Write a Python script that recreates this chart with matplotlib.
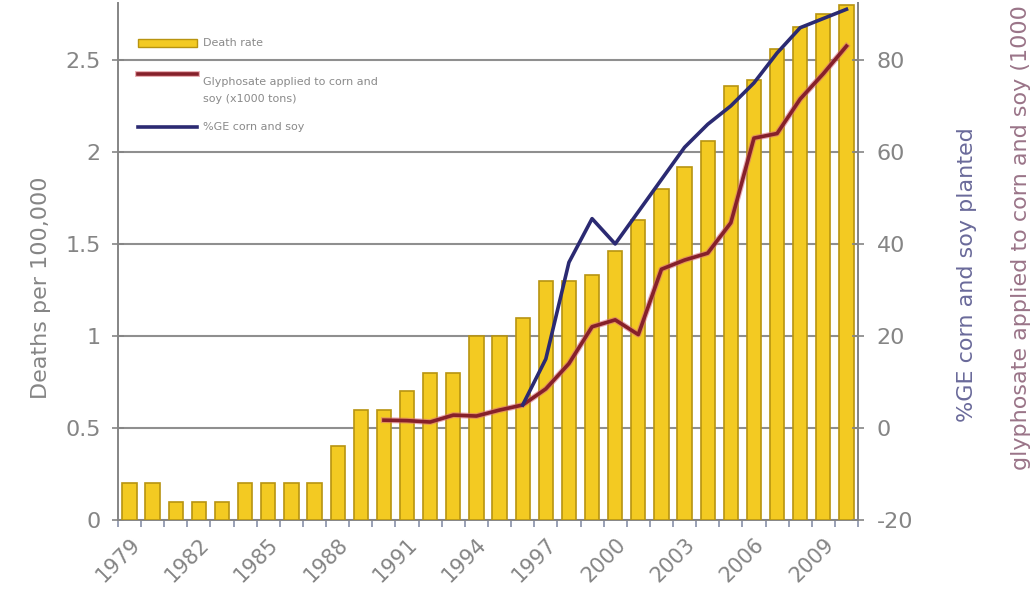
import matplotlib
matplotlib.use("Agg")
import matplotlib.pyplot as plt
import matplotlib.patheffects as pe
from matplotlib.lines import Line2D
from matplotlib.patches import Rectangle
from matplotlib.ticker import FixedLocator

plt.rcParams["axes.unicode_minus"] = False

# death rate per 100,000 (bars, left axis)
years = list(range(1979, 2011))
death_rate = [0.2, 0.2, 0.1, 0.1, 0.1, 0.2, 0.2, 0.2, 0.2, 0.4,
              0.6, 0.6, 0.7, 0.8, 0.8, 1.0, 1.0, 1.1, 1.3, 1.3,
              1.33, 1.46, 1.63, 1.8, 1.92, 2.06, 2.36, 2.39, 2.56, 2.68,
              2.75, 2.8]

# glyphosate applied to corn and soy, x1000 tons (right axis)
gly_years = list(range(1990, 2011))
glyphosate = [1.7, 1.6, 1.3, 2.8, 2.6, 3.9, 5.0, 8.5, 14, 22,
              23.5, 20.3, 34.5, 36.5, 38, 44.6, 63, 64, 71.5, 77,
              83]

# % GE corn and soy planted (right axis)
ge_years = list(range(1996, 2011))
ge_pct = [5, 15, 36, 45.5, 40, 47, 54, 61, 66, 70, 75, 81.5, 87, 89, 91]

label_years = list(range(1979, 2011, 3))

grey = "#858585"
bar_color = "#F3CA22"
bar_edge = "#B89410"
red = "#86202A"
navy = "#2B2A72"

W, H = 1034, 607
fig = plt.figure(figsize=(W / 100, H / 100), dpi=100)
ax = fig.add_axes([0.1141, 0.1433, 0.7157, 0.852])
ax2 = ax.twinx()


def px(x, y):
    # pixel position (from top-left) -> figure fraction
    return x / W, 1 - y / H


ax.bar(years, death_rate, width=0.62, color=bar_color,
       edgecolor=bar_edge, linewidth=1.2, zorder=3)

ax.set_xlim(1978.5, 2010.5)
ax.set_ylim(0, 2.81)
ax.set_yticks([0, 0.5, 1, 1.5, 2, 2.5])
ax.set_yticklabels(["0", "0.5", "1", "1.5", "2", "2.5"])
ax.yaxis.grid(True, color="#8f8f8f", linewidth=1.5, zorder=0)
ax.set_axisbelow(True)

ax.set_xticks(label_years)
ax.set_xticklabels([str(y) for y in label_years], rotation=45, ha="right",
                   rotation_mode="anchor")
ax.xaxis.set_minor_locator(FixedLocator([y + 0.5 for y in range(1978, 2011)]))
ax.tick_params(axis="x", which="major", length=0, pad=10, labelsize=15,
               labelcolor=grey)
ax.tick_params(axis="x", which="minor", length=5, width=1.2, color="#8890a8",
               direction="out")
ax.tick_params(axis="y", length=9, width=1.2, direction="inout", color=grey,
               labelsize=16, labelcolor=grey, pad=8)
ax.set_ylabel("Deaths per 100,000", color=grey, fontsize=16)
ax.yaxis.set_label_coords(-0.09, 0.45)

ax.spines["top"].set_visible(False)
ax2.spines["top"].set_visible(False)
for sp in ["left", "bottom", "right"]:
    ax.spines[sp].set_color(grey)
    ax.spines[sp].set_linewidth(1.4)
ax2.spines["right"].set_color(grey)
ax2.spines["right"].set_linewidth(1.4)
ax2.spines["left"].set_visible(False)
ax2.spines["bottom"].set_visible(False)

ax2.set_ylim(-20, -20 + 2.81 * 40)
ax2.set_yticks([-20, 0, 20, 40, 60, 80])
ax2.tick_params(axis="y", length=9, width=1.2, direction="inout", color=grey,
                labelsize=16, labelcolor=grey, pad=9)

halo = [pe.Stroke(linewidth=4.2, foreground="#d9707a", alpha=0.6), pe.Normal()]
ax2.plot(gly_years, glyphosate, color=red, linewidth=2.6, zorder=4,
         path_effects=halo)
ax2.plot(ge_years, ge_pct, color=navy, linewidth=2.6, zorder=5)

# key in the upper left corner
leg_grey = "#8a8a8a"
x0, x1, xt = 138, 197, 203
r0 = px(x0, 47)
r1 = px(x1, 39)
fig.add_artist(Rectangle(r0, r1[0] - r0[0], r1[1] - r0[1],
                         transform=fig.transFigure, facecolor=bar_color,
                         edgecolor=bar_edge, linewidth=1.0))
fig.text(*px(xt, 43), "Death rate", fontsize=8, color=leg_grey, va="center")

for yy, col, fx in [(74, red, halo), (127, navy, None)]:
    a, b = px(x0, yy), px(x1, yy)
    fig.add_artist(Line2D([a[0], b[0]], [a[1], b[1]], transform=fig.transFigure,
                          color=col, linewidth=2.6, path_effects=fx))
fig.text(*px(xt, 77), "Glyphosate applied to corn and\nsoy (x1000 tons)",
         fontsize=8, color=leg_grey, va="top", linespacing=1.9)
fig.text(*px(xt, 127), "%GE corn and soy", fontsize=8, color=leg_grey,
         va="center")

fig.text(0.935, 0.547, "%GE corn and soy planted", rotation=90,
         ha="center", va="center", color="#6a6a9a", fontsize=16)
fig.text(0.987, 0.226, "glyphosate applied to corn and soy (1000 tons)",
         rotation=90, ha="center", va="bottom", color="#9a7488", fontsize=16)

fig.savefig("out.png", dpi=100)
